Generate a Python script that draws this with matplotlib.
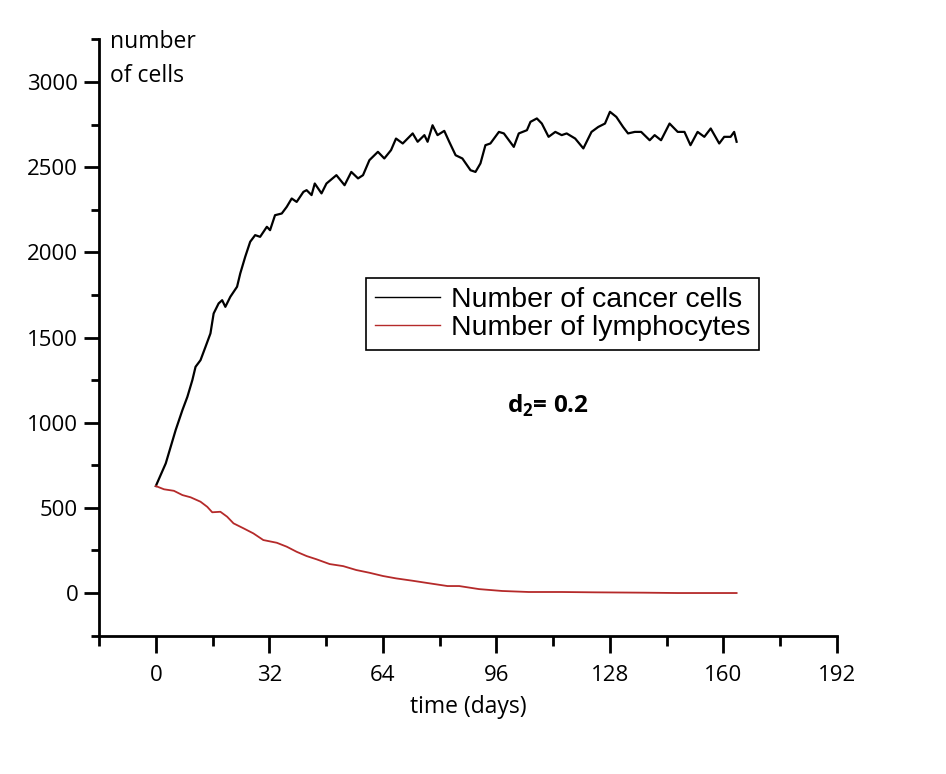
import matplotlib
matplotlib.use("Agg")
import matplotlib.pyplot as plt
from matplotlib.ticker import MultipleLocator

# values (days, number of cells)
cancer_days = [0.0, 2.8, 4.2, 5.6, 7.5, 8.9, 10.3, 11.2, 12.6, 14.0, 15.4, 16.3, 17.7, 18.7,
               19.6, 21.0, 22.9, 23.8, 25.2, 26.6, 28.0, 29.4, 31.3, 32.2, 33.6, 35.5, 36.9,
               38.3, 39.7, 41.6, 42.5, 43.9, 44.8, 46.7, 48.1, 50.9, 53.2, 55.1, 57.0, 58.4,
               60.2, 62.6, 64.4, 66.3, 67.7, 69.6, 72.4, 73.8, 75.7, 76.6, 78.0, 79.4, 81.3,
               82.7, 84.5, 86.4, 88.7, 90.1, 91.5, 92.9, 94.3, 96.7, 98.1, 100.9, 102.3,
               104.6, 105.6, 107.4, 108.8, 110.7, 112.6, 114.4, 115.8, 118.2, 120.5, 122.8,
               124.7, 126.6, 128.0, 129.8, 131.7, 133.1, 135.0, 136.8, 139.2, 140.6, 142.4,
               144.8, 147.1, 149.0, 150.7, 152.7, 154.6, 156.4, 158.8, 160.2, 162.0, 163.0,
               163.7]
cancer = [628, 761, 859, 957, 1074, 1152, 1250, 1328, 1367, 1445, 1524, 1641, 1700, 1719,
          1680, 1739, 1798, 1876, 1974, 2062, 2101, 2091, 2150, 2130, 2218, 2228, 2267,
          2316, 2296, 2355, 2365, 2336, 2404, 2346, 2404, 2453, 2394, 2472, 2434, 2453,
          2541, 2590, 2551, 2600, 2668, 2639, 2698, 2649, 2688, 2649, 2746, 2688, 2713,
          2649, 2570, 2551, 2482, 2472, 2522, 2629, 2639, 2707, 2698, 2619, 2698,
          2717, 2766, 2786, 2756, 2678, 2707, 2688, 2698, 2668, 2610, 2707,
          2736, 2756, 2825, 2795, 2736, 2698, 2707, 2707, 2658, 2688, 2658,
          2756, 2707, 2707, 2629, 2707, 2678, 2727, 2639, 2678, 2678, 2707,
          2649]

lymph_days = [0.0, 2.3, 5.1, 7.5, 9.8, 12.6, 14.5, 15.9, 18.2, 20.1, 21.9, 24.7, 27.5, 30.3,
              34.1, 36.9, 39.7, 42.5, 45.3, 49.0, 52.8, 56.5, 60.2, 64.0, 67.7, 72.4, 77.1,
              82.2, 85.5, 91.1, 97.6, 105.1, 114.4, 123.8, 137.8, 147.1, 156.4, 163.7]
lymph = [628, 609, 600, 575, 562, 536, 506, 474, 477, 448, 409, 380, 350, 311,
         295, 272, 242, 217, 198, 170, 158, 135, 119, 100, 86, 72, 57,
         41, 41, 23, 12, 6, 6, 4, 2, 0, 0, 0]

x_ticks = [0, 32, 64, 96, 128, 160, 192]
y_ticks = [0, 500, 1000, 1500, 2000, 2500, 3000]

tick_font = "Open Sans"
plt.rcParams["mathtext.fontset"] = "custom"
plt.rcParams["mathtext.bf"] = "Open Sans:bold"
plt.rcParams["mathtext.rm"] = "Open Sans"

fig = plt.figure(figsize=(9.46, 7.74), dpi=100)
ax = fig.add_axes([0.1047, 0.1788, 0.7801, 0.7703])

ax.plot(cancer_days, cancer, color="black", lw=1.6, label="Number of cancer cells")
ax.plot(lymph_days, lymph, color="#b52a2a", lw=1.3, label="Number of lymphocytes")

ax.set_xlim(-16, 192)
ax.set_ylim(-250, 3250)
ax.set_xticks(x_ticks)
ax.set_yticks(y_ticks)
ax.xaxis.set_minor_locator(MultipleLocator(16))
ax.yaxis.set_minor_locator(MultipleLocator(250))

for s in ["top", "right"]:
    ax.spines[s].set_visible(False)
for s in ["left", "bottom"]:
    ax.spines[s].set_linewidth(2)

ax.tick_params(axis="x", which="major", direction="out", length=12, width=2, pad=9)
ax.tick_params(axis="x", which="minor", direction="out", length=7, width=2)
ax.tick_params(axis="y", which="major", direction="out", length=11, width=2, pad=4)
ax.tick_params(axis="y", which="minor", direction="out", length=6, width=2)
for lab in ax.get_xticklabels() + ax.get_yticklabels():
    lab.set_fontfamily(tick_font)
    lab.set_fontsize(16)

ax.set_xlabel("time (days)", fontfamily=tick_font, fontsize=16.5, labelpad=7)

ax.text(-13, 3198, "number", fontfamily=tick_font, fontsize=16.5,
        va="baseline", ha="left", clip_on=False)
ax.text(-13, 2999, "of cells", fontfamily=tick_font, fontsize=16.5,
        va="baseline", ha="left", clip_on=False)

ax.text(98.9, 1056, r"$\mathbf{d}_{\mathbf{2}}$= 0.2", fontfamily=tick_font,
        fontweight="bold", fontsize=17.5, va="baseline", ha="left")

leg = ax.legend(loc="upper left", bbox_to_anchor=(0.3618, 0.5998),
                prop={"family": "Liberation Sans", "size": 20.5},
                frameon=True, fancybox=False, framealpha=1, edgecolor="black",
                handlelength=2.3, handletextpad=0.4, borderpad=0.3,
                labelspacing=0.1, borderaxespad=0)
leg.get_frame().set_linewidth(1.2)
for line in leg.get_lines():
    line.set_linewidth(1.0)

fig.savefig("out.png", dpi=100)
